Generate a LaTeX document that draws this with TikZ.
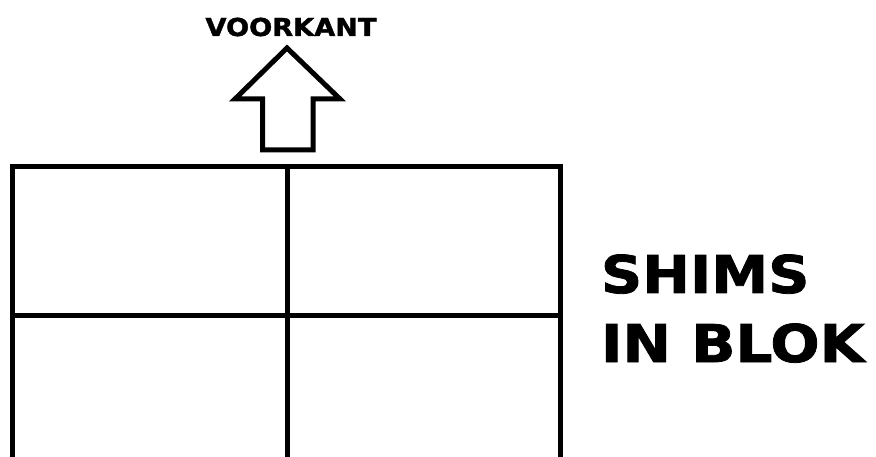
\documentclass[tikz,border=0pt]{standalone}
\usepackage{fontspec}
\setmainfont{DejaVu Sans}
\newfontfamily\heavy{DejaVu Sans Bold}[FakeBold=1.5]
\tikzset{
  frame/.style={draw=black, line width=5pt, line join=miter},
  lbl/.style={inner sep=0pt, outer sep=0pt, text=black}
}
\begin{document}
\begin{tikzpicture}[x=1pt,y=-1pt]
\fill[white] (0,0) rectangle (876,457);
\useasboundingbox (0,0) rectangle (876,457);
\begin{scope}
\clip (0,0) rectangle (876,457);
\draw[frame] (12,167) rectangle (560,480);
\draw[frame] (287,167) -- (287,480);
\draw[frame] (12,315) -- (560,315);
\end{scope}
\draw[frame] (287,48) -- (340,99) -- (313,99) -- (313,150) -- (262.5,150) -- (262.5,99) -- (235,99) -- cycle;
\node[lbl, anchor=base] (voorkant) at (291,36) {\fontsize{24.7}{28}\heavy\scalebox{1.1}[1]{VOORKANT}};
\node[lbl, anchor=base west] (shims) at (601,293) {\fontsize{52}{60}\heavy\scalebox{1.1}[1]{SHIMS}};
\node[lbl, anchor=base west] (blok) at (601,362) {\fontsize{52}{60}\heavy\scalebox{1.115}[1]{IN BLOK}};
\end{tikzpicture}
\end{document}
